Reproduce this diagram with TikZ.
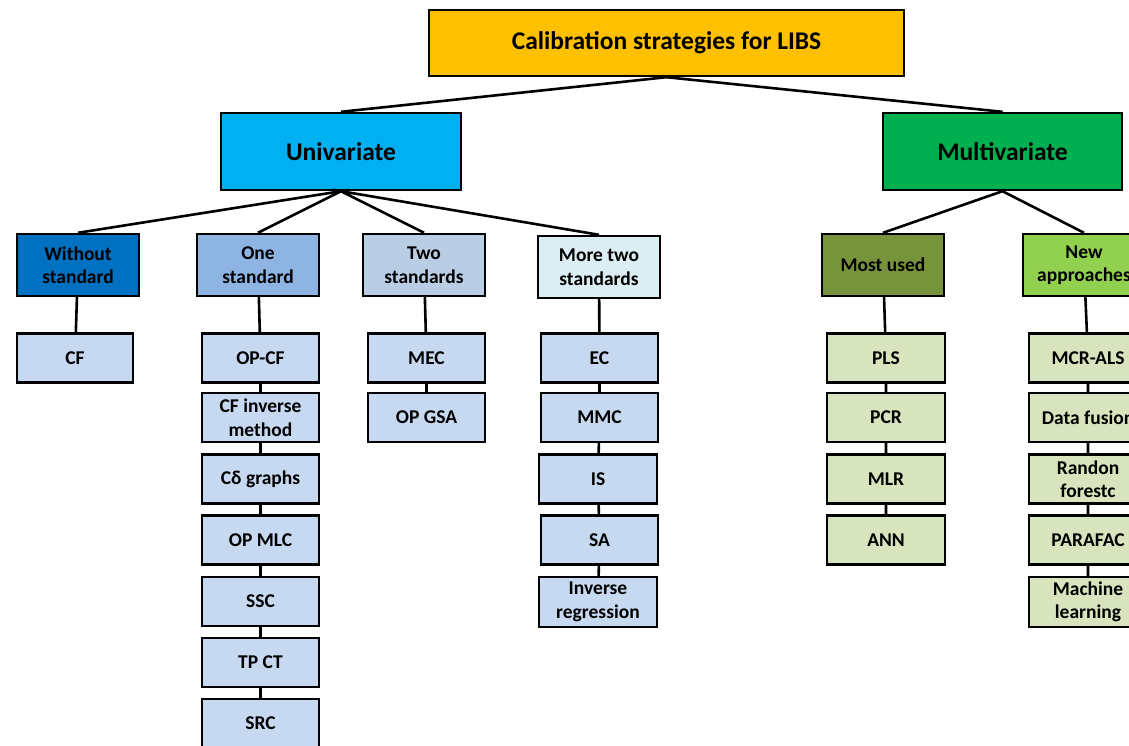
\documentclass[tikz,border=0pt]{standalone}
\usepackage{fontspec}
\setmainfont{Carlito}
\usepackage{tikz}
\definecolor{titlecol}{HTML}{FFC000}
\definecolor{unicol}{HTML}{00B0F0}
\definecolor{multicol}{HTML}{00B050}
\definecolor{nonecol}{HTML}{0070C0}
\definecolor{onecol}{HTML}{8EB4E3}
\definecolor{twocol}{HTML}{B9CDE5}
\definecolor{morecol}{HTML}{DBEEF4}
\definecolor{uleafcol}{HTML}{C6D9F1}
\definecolor{mostcol}{HTML}{77933C}
\definecolor{newcol}{HTML}{92D050}
\definecolor{mleafcol}{HTML}{D7E4BD}
\newcommand{\bigtxt}{\fontsize{25.5}{28}\selectfont}
\newcommand{\catbox}[7]{
	\node[blk, fill=#2, minimum width=#5pt, minimum height=#6pt] (#1) at (#3,#4) {#7};
}

\begin{document}
\begin{tikzpicture}[x=1pt,y=-1pt,
	blk/.style={draw=black, line width=2.4pt, align=center, inner sep=1pt,
		font=\bfseries\fontsize{19.5}{23.5}\selectfont},
	link/.style={line width=2.6pt}]
	\useasboundingbox (0,0) rectangle (1129,746);

	\catbox{libs}{titlecol}{666.5}{43}{475}{66}{\bigtxt Calibration strategies for LIBS}
	\catbox{uni}{unicol}{341}{151.5}{240}{77}{\bigtxt Univariate}
	\catbox{multi}{multicol}{1002.5}{151.5}{239}{77}{\bigtxt Multivariate}

	\catbox{nostd}{nonecol}{78}{265}{122}{62}{Without\\standard}
	\catbox{onestd}{onecol}{258}{265}{122}{62}{One\\standard}
	\catbox{twostd}{twocol}{424}{265}{122}{62}{Two\\standards}
	\catbox{morestd}{morecol}{599}{267}{122}{62}{More two\\standards}
	\catbox{most}{mostcol}{883}{265}{122}{62}{Most used}
	\catbox{new}{newcol}{1084}{265}{122}{62}{New\\approaches}

	\catbox{cf}{uleafcol}{75}{358}{116}{49}{CF}

	\catbox{opcf}{uleafcol}{260.5}{358}{117}{49}{OP-CF}
	\catbox{cfinv}{uleafcol}{260.5}{417.5}{117}{49}{CF inverse\\method}
	\catbox{cdelta}{uleafcol}{260.5}{479}{117}{49}{Cδ graphs}
	\catbox{opmlc}{uleafcol}{260.5}{540}{117}{49}{OP MLC}
	\catbox{ssc}{uleafcol}{260.5}{601.5}{117}{49}{SSC}
	\catbox{tpct}{uleafcol}{260.5}{662.5}{117}{49}{TP CT}
	\catbox{src}{uleafcol}{260.5}{723.5}{117}{49}{SRC}

	\catbox{mec}{uleafcol}{426.5}{358}{117}{49}{MEC}
	\catbox{opgsa}{uleafcol}{426.5}{417.5}{117}{49}{OP GSA}

	\catbox{ec}{uleafcol}{599.5}{358}{117}{49}{EC}
	\catbox{mmc}{uleafcol}{599.5}{417.5}{117}{49}{MMC}
	\catbox{is}{uleafcol}{598}{479}{118}{49}{IS}
	\catbox{sa}{uleafcol}{599.5}{540}{117}{49}{SA}
	\catbox{invreg}{uleafcol}{598}{602}{118}{50}{Inverse\\regression}

	\catbox{pls}{mleafcol}{886}{358}{118}{49}{PLS}
	\catbox{pcr}{mleafcol}{886}{417.5}{118}{49}{PCR}
	\catbox{mlr}{mleafcol}{886}{479}{118}{49}{MLR}
	\catbox{ann}{mleafcol}{886}{540}{118}{49}{ANN}

	\catbox{mcr}{mleafcol}{1088}{358}{118}{49}{MCR-ALS}
	\catbox{fusion}{mleafcol}{1088}{417.5}{118}{49}{Data fusion}
	\catbox{forest}{mleafcol}{1088}{479}{118}{49}{Randon\\forestc}
	\catbox{parafac}{mleafcol}{1088}{540}{118}{49}{PARAFAC}
	\catbox{ml}{mleafcol}{1088}{602}{118}{50}{Machine\\learning}

	\draw[link] (uni.north) -- (libs.south) -- (multi.north);
	\draw[link] (nostd.north) -- (uni.south) -- (onestd.north);
	\draw[link] (twostd.north) -- (uni.south) -- (morestd.north);
	\draw[link] (most.north) -- (multi.south) -- (new.north);
	\draw[link] (nostd) -- (cf);
	\draw[link] (onestd) -- (opcf) -- (cfinv) -- (cdelta) -- (opmlc) -- (ssc) -- (tpct) -- (src);
	\draw[link] (twostd) -- (mec) -- (opgsa);
	\draw[link] (morestd) -- (ec) -- (mmc) -- (is) -- (sa) -- (invreg);
	\draw[link] (most) -- (pls) -- (pcr) -- (mlr) -- (ann);
	\draw[link] (new) -- (mcr) -- (fusion) -- (forest) -- (parafac) -- (ml);
\end{tikzpicture}
\end{document}
